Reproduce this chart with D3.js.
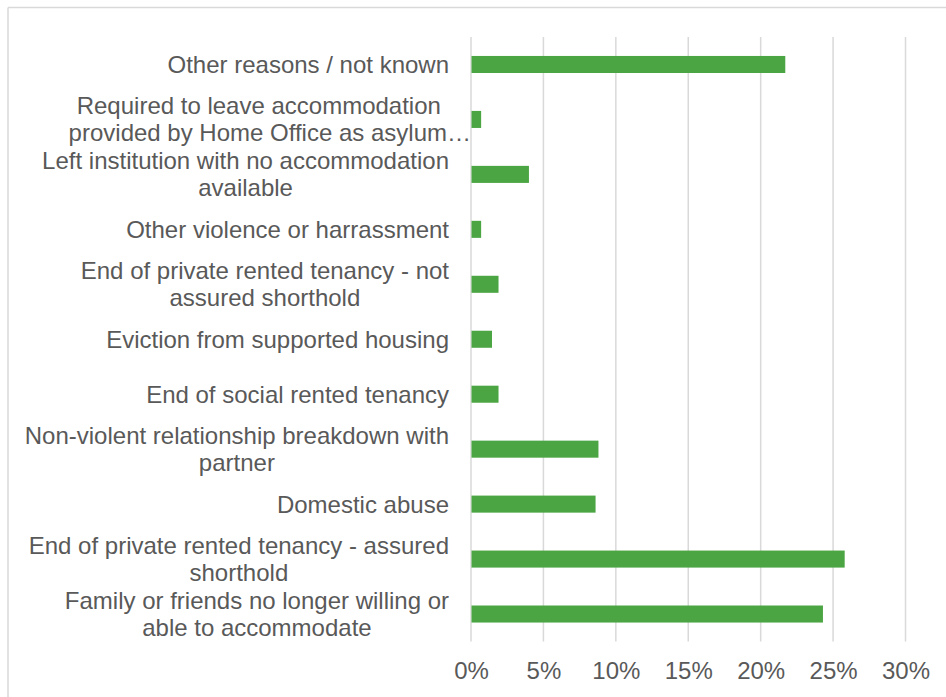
<!DOCTYPE html>
<html>
<head>
<meta charset="utf-8">
<script src="https://cdn.jsdelivr.net/npm/d3@7"></script>
<style>
  html, body { margin: 0; padding: 0; background: #fff; }
  svg { display: block; }
  text { font-family: "Liberation Sans", Arial, sans-serif; fill: #595959; }
</style>
</head>
<body>
<svg id="chart" width="946" height="697"></svg>
<script>
// Reasons for homelessness, top to bottom as shown
const categories = [
  ["Other reasons / not known"],
  ["Required to leave accommodation", "provided by Home Office as asylum\u2026"],
  ["Left institution with no accommodation", "available"],
  ["Other violence or harrassment"],
  ["End of private rented tenancy - not", "assured shorthold"],
  ["Eviction from supported housing"],
  ["End of social rented tenancy"],
  ["Non-violent relationship breakdown with", "partner"],
  ["Domestic abuse"],
  ["End of private rented tenancy - assured", "shorthold"],
  ["Family or friends no longer willing or", "able to accommodate"]
];
// Share of households (%)
const shares = [21.7, 0.7, 4.0, 0.7, 1.9, 1.45, 1.9, 8.8, 8.6, 25.8, 24.3];
const tickValues = [0, 5, 10, 15, 20, 25, 30];

const svg = d3.select("#chart");
const W = 946, H = 697;
const plot = { left: 471, right: 905.5, top: 37, bottom: 641.5 };
const fontSize = 24;
const lineH = 27;

// chart frame (top and left edges visible)
svg.append("line").attr("x1", 8).attr("x2", W).attr("y1", 7.5).attr("y2", 7.5)
  .attr("stroke", "#d9d9d9").attr("stroke-width", 1.5);
svg.append("line").attr("x1", 8).attr("x2", 8).attr("y1", 7.5).attr("y2", H)
  .attr("stroke", "#d9d9d9").attr("stroke-width", 1.5);

const x = d3.scaleLinear().domain([0, 30]).range([plot.left, plot.right]);
const y = d3.scaleBand().domain(d3.range(categories.length))
  .range([plot.top, plot.bottom]).paddingInner(0.69).paddingOuter(0.345);

// vertical gridlines
svg.append("g").selectAll("line").data(tickValues).join("line")
  .attr("x1", d => x(d)).attr("x2", d => x(d))
  .attr("y1", plot.top).attr("y2", plot.bottom)
  .attr("stroke", "#d9d9d9").attr("stroke-width", 1.5);

// bars
svg.append("g").selectAll("rect").data(shares).join("rect")
  .attr("x", x(0) + 0.5)
  .attr("y", (d, i) => y(i))
  .attr("width", d => x(d) - x(0) - 0.5)
  .attr("height", y.bandwidth())
  .attr("fill", "#4aa542");

// x axis tick labels
const xAxis = d3.axisBottom(x).tickValues(tickValues).tickFormat(d => d + "%").tickSize(0).tickPadding(0);
const gx = svg.append("g").attr("transform", `translate(0, ${plot.bottom})`).call(xAxis);
gx.select(".domain").remove();
gx.selectAll("text")
  .attr("dy", null).attr("y", 37)
  .style("font-size", fontSize + "px")
  .style("font-family", "'Liberation Sans', Arial, sans-serif")
  .attr("fill", "#595959");

// category labels: lines centred within a right-aligned block
const labelRight = 449;
const measure = svg.append("text").style("font-size", fontSize + "px").attr("opacity", 0);
const widthOf = s => { measure.text(s); return measure.node().getComputedTextLength(); };

const lg = svg.append("g");
categories.forEach((lines, i) => {
  const cy = y(i) + y.bandwidth() / 2;
  const widths = lines.map(widthOf);
  const clipped = lines.findIndex(s => s.endsWith("\u2026"));
  let blockLeft;
  if (clipped >= 0) {
    // truncated line runs from the block's left edge up to the axis
    blockLeft = plot.left - widths[clipped];
  } else {
    blockLeft = labelRight - d3.max(widths);
  }
  const centre = (blockLeft + labelRight) / 2;
  const y0 = cy - (lines.length - 1) * lineH / 2;
  lines.forEach((s, j) => {
    const t = lg.append("text")
      .attr("y", y0 + j * lineH)
      .attr("dy", "0.35em")
      .style("font-size", fontSize + "px")
      .text(s);
    if (j === clipped) t.attr("x", blockLeft).attr("text-anchor", "start");
    else t.attr("x", centre).attr("text-anchor", "middle");
  });
});
measure.remove();
</script>
</body>
</html>
